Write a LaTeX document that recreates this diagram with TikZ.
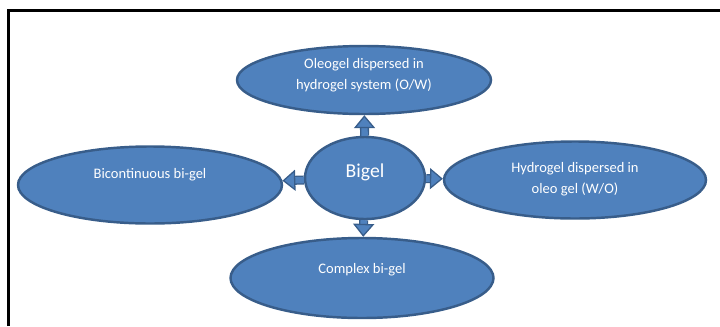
\documentclass[tikz,border=0pt]{standalone}
\usepackage{fontspec}
\setsansfont{Carlito}
\usetikzlibrary{arrows.meta,shapes.geometric}
\definecolor{GelFill}{HTML}{4F81BD}
\definecolor{GelEdge}{HTML}{385D8A}

\begin{document}
\begin{tikzpicture}[x=0.03cm, y=-0.03cm,
  gel/.style={ellipse, draw=GelEdge, line width=2.1pt, fill=GelFill, inner sep=0pt},
  geltext/.style={text=white, font=\sffamily\fontsize{12.4}{18}\selectfont, align=center},
  push/.style={draw=GelEdge, line width=1.1pt, double=GelFill, double distance=5.5pt,
    -{Triangle[length=11pt, width=18pt, fill=GelFill]}}]
\useasboundingbox (0,0) rectangle (720,326);

% Frame
\draw[line width=2.6pt, black] (8.5,326) -- (8.5,10.5) -- (720,10.5);

% Ellipses
\node[gel, minimum width=120*0.03cm, minimum height=82*0.03cm] (bigel) at (365,178) {};
\node[gel, minimum width=254*0.03cm, minimum height=68*0.03cm] (ow) at (364,80) {};
\node[gel, minimum width=264*0.03cm, minimum height=77*0.03cm] (bicont) at (150,185) {};
\node[gel, minimum width=262*0.03cm, minimum height=77*0.03cm] (wo) at (575,180) {};
\node[gel, minimum width=263*0.03cm, minimum height=80*0.03cm] (complex) at (362,278) {};

% Texts
\node[geltext, font=\sffamily\fontsize{16.8}{20}\selectfont] (bigel-txt) at ([yshift=6*0.03cm]bigel.center) {Bigel};
\node[geltext] (ow-txt) at ([yshift=4.5*0.03cm]ow.center) {Oleogel dispersed in\\hydrogel system (O/W)};
\node[geltext] (bicont-txt) at ([yshift=10*0.03cm]bicont.center) {Bicontinuous bi-gel};
\node[geltext] (wo-txt) at ([yshift=1*0.03cm]wo.center) {Hydrogel dispersed in\\oleo gel (W/O)};
\node[geltext] (complex-txt) at ([yshift=8*0.03cm]complex.center) {Complex bi-gel};

% Arrows
\draw[push] (bigel) -- (ow);
\draw[push] (bigel) -- (bicont);
\draw[push] (bigel) -- (wo);
\draw[push] (bigel) -- (complex);
\end{tikzpicture}
\end{document}
